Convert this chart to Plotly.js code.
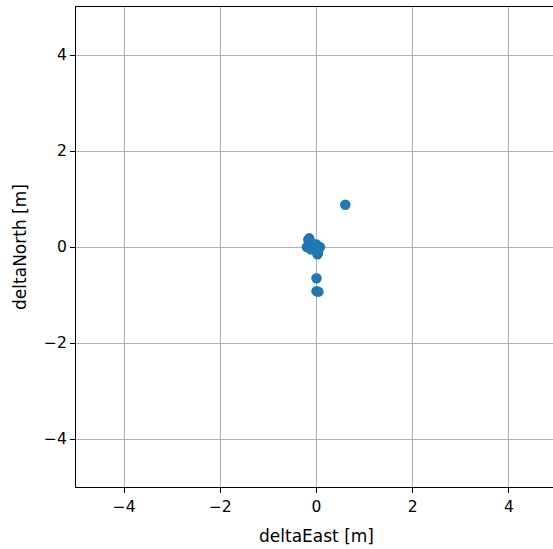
<!DOCTYPE html>
<html><head><meta charset="utf-8">
<script src="https://cdn.plot.ly/plotly-3.0.1.min.js"></script>
<style>html,body{margin:0;padding:0;overflow:hidden;background:#fff}</style>
</head><body><div id="chart"></div>
<script>
const deltaEast  = [-0.17, -0.15, -0.20, -0.10, -0.05, 0.00, 0.05, 0.07, 0.02, -0.12, 0.03, 0.60, 0.00, 0.00, 0.04];
const deltaNorth = [0.15, 0.18, 0.00, 0.08, -0.03, 0.05, -0.02, 0.00, -0.15, -0.05, -0.12, 0.88, -0.65, -0.92, -0.93];
const tickVals = [-4, -2, 0, 2, 4];

const axisCommon = {
  range: [-5, 5], tickvals: tickVals, showgrid: true, gridcolor: '#b0b0b0', gridwidth: 1,
  zeroline: false, showline: true, linecolor: '#000', linewidth: 1, mirror: true,
  ticks: 'outside', ticklen: 5, tickcolor: '#000', tickwidth: 1,
  tickfont: {family: 'DejaVu Sans', size: 15.5, color: '#000'}
};
Plotly.newPlot('chart', [{
  x: deltaEast, y: deltaNorth, mode: 'markers', type: 'scatter',
  marker: {color: '#1f77b4', size: 10.5}
}], {
  width: 557, height: 549,
  margin: {l: 76, r: 0, t: 7, b: 62},
  paper_bgcolor: '#fff', plot_bgcolor: '#fff', showlegend: false,
  font: {family: 'DejaVu Sans', size: 15.5, color: '#000'},
  xaxis: Object.assign({}, axisCommon, {title: {text: 'deltaEast [m]', font: {size: 17}, standoff: 15}}),
  yaxis: Object.assign({}, axisCommon, {title: {text: 'deltaNorth [m]', font: {size: 17}, standoff: 13}})
}, {staticPlot: true});
</script></body></html>
